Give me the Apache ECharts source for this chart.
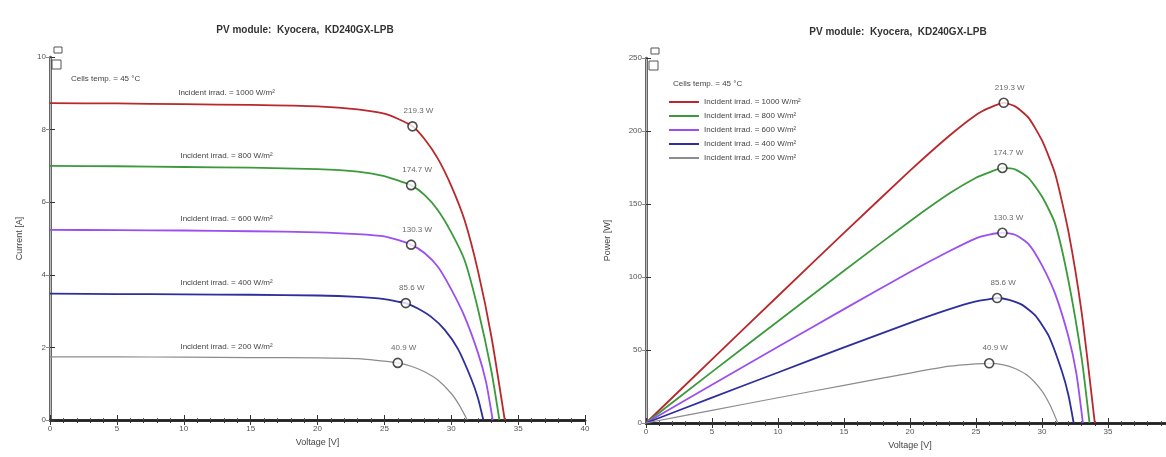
<!DOCTYPE html>
<html>
<head>
<meta charset="utf-8">
<script src="https://cdn.jsdelivr.net/npm/echarts@6/dist/echarts.min.js"></script>
<style>
  html, body { margin: 0; padding: 0; background: #fff; }
  #chart { width: 1166px; height: 457px; }
</style>
</head>
<body>
<div id="chart"></div>
<script>
// irradiance levels [W/m2]
const irrad = [1000, 800, 600, 400, 200]

// I-V / P-V curves (voltage [V], current [A], power [W])
const v1000 = [0, 5, 10, 15, 20, 23, 25, 26, 27.1, 28, 29, 30, 31, 32, 33, 34]
const i1000 = [8.73, 8.72, 8.70, 8.68, 8.64, 8.56, 8.44, 8.30, 8.09, 7.74, 7.20, 6.45, 5.50, 4.10, 2.30, 0]
const p1000 = [0, 43.6, 87.0, 130.2, 172.8, 196.9, 211.0, 215.8, 219.3, 216.7, 208.8, 193.5, 170.5, 131.2, 75.9, 0]

const v800 = [0, 5, 10, 15, 20, 23, 25, 26, 27, 28, 29, 30, 31, 32, 33, 33.6]
const i800 = [7.00, 6.99, 6.97, 6.95, 6.91, 6.84, 6.72, 6.60, 6.47, 6.20, 5.78, 5.17, 4.40, 3.05, 1.35, 0]
const p800 = [0, 35.0, 69.7, 104.3, 138.2, 157.3, 168.0, 171.6, 174.7, 173.6, 167.6, 155.1, 136.4, 97.6, 44.6, 0]

const v600 = [0, 5, 10, 15, 20, 23, 25, 26, 27, 28, 29, 30, 31, 32, 32.6, 33.1]
const i600 = [5.24, 5.23, 5.22, 5.20, 5.17, 5.12, 5.06, 4.96, 4.83, 4.60, 4.22, 3.60, 2.85, 1.85, 1.05, 0]
const p600 = [0, 26.2, 52.2, 78.0, 103.4, 117.8, 126.5, 129.0, 130.3, 128.8, 122.4, 108.0, 88.4, 59.2, 34.2, 0]

const v400 = [0, 5, 10, 15, 20, 23, 25, 26, 26.6, 27.5, 28.5, 29.5, 30.5, 31.5, 32, 32.4]
const i400 = [3.48, 3.47, 3.46, 3.45, 3.43, 3.39, 3.33, 3.26, 3.22, 3.07, 2.84, 2.49, 1.96, 1.13, 0.60, 0]
const p400 = [0, 17.4, 34.6, 51.8, 68.6, 78.0, 83.3, 84.8, 85.6, 84.4, 80.9, 73.5, 59.8, 35.6, 19.2, 0]

const v200 = [0, 5, 10, 15, 20, 23, 25, 26, 27, 28, 29, 30, 30.6, 31.2]
const i200 = [1.74, 1.74, 1.73, 1.72, 1.71, 1.69, 1.62, 1.573, 1.48, 1.33, 1.10, 0.73, 0.41, 0]
const p200 = [0, 8.7, 17.3, 25.8, 34.2, 38.9, 40.5, 40.9, 40.0, 37.2, 31.9, 21.9, 12.5, 0]

// maximum power points
const mppV = [27.1, 27.0, 27.0, 26.6, 26.0]
const mppI = [8.09, 6.47, 4.83, 3.22, 1.573]
const mppP = [219.3, 174.7, 130.3, 85.6, 40.9]

const volts = [v1000, v800, v600, v400, v200]
const amps = [i1000, i800, i600, i400, i200]
const watts = [p1000, p800, p600, p400, p200]
const colors = ['#b8282c', '#3c9a3c', '#9b4ff0', '#2e2e9c', '#8c8c8c']

const FONT = 'Liberation Sans, Arial, sans-serif'
const names = irrad.map(g => 'Incident irrad. = ' + g + ' W/m²')

const zip = (a, b) => a.map((x, k) => [x, b[k]])

const chart = echarts.init(document.getElementById('chart'))

// axes helpers
const mainX = (gi) => ({
  type: 'value', gridIndex: gi, min: 0, max: 40, interval: 5, position: 'bottom',
  name: 'Voltage [V]', nameLocation: 'middle', nameGap: 16,
  nameTextStyle: { fontSize: 9, color: '#444', fontFamily: FONT },
  axisLine: { lineStyle: { color: '#333', width: 2.5 } },
  axisTick: { inside: true, length: 5, lineStyle: { color: '#333' } },
  minorTick: { show: true, splitNumber: 5, length: 2, lineStyle: { color: '#555' } },
  axisLabel: { fontSize: 8, color: '#555', margin: 5, fontFamily: FONT },
  splitLine: { show: false },
})
const topX = (gi) => ({
  type: 'value', gridIndex: gi, min: 0, max: 40, interval: 5, position: 'top',
  axisLine: { lineStyle: { color: '#222', width: 2.5 } },
  axisTick: { inside: true, length: 5, lineStyle: { color: '#333' } },
  minorTick: { show: true, splitNumber: 5, length: 3, lineStyle: { color: '#333' } },
  axisLabel: { show: false },
  splitLine: { show: false },
})
const mainY = (gi, max, interval, name, gap) => ({
  type: 'value', gridIndex: gi, min: 0, max: max, interval: interval, position: 'left',
  name: name, nameLocation: 'middle', nameGap: gap,
  nameTextStyle: { fontSize: 9, color: '#444', fontFamily: FONT },
  axisLine: { show: true, lineStyle: { color: '#333', width: 2.5 } },
  axisTick: { show: true, inside: true, length: 5, lineStyle: { color: '#333' } },
  axisLabel: { fontSize: 8, color: '#555', margin: 4, fontFamily: FONT },
  splitLine: { show: false },
})
const rightY = (gi, max, interval) => ({
  type: 'value', gridIndex: gi, min: 0, max: max, interval: interval, position: 'right',
  axisLine: { show: true, lineStyle: { color: '#bbb', width: 1 } },
  axisTick: { show: true, inside: true, length: 4, lineStyle: { color: '#888' } },
  axisLabel: { show: false },
  splitLine: { show: false },
})

const series = []

// left chart: current vs voltage
irrad.forEach((g, k) => {
  series.push({
    type: 'line', name: names[k], xAxisIndex: 0, yAxisIndex: 0,
    data: zip(volts[k], amps[k]), showSymbol: false, smooth: 0.2,
    lineStyle: { color: colors[k], width: k === 4 ? 1.2 : 1.8 },
    itemStyle: { color: colors[k] },
    markPoint: {
      symbol: 'circle', symbolSize: 1, itemStyle: { color: 'transparent' },
      label: {
        show: true, formatter: names[k], position: 'top', distance: 6,
        fontSize: 8, color: '#444', fontFamily: FONT,
      },
      data: [{ coord: [13.2, amps[k][0]] }],
    },
  })
})
series.push({
  type: 'scatter', xAxisIndex: 0, yAxisIndex: 0, z: 5,
  data: zip(mppV, mppI), symbol: 'circle', symbolSize: 9,
  itemStyle: { color: '#fff', borderColor: '#222', borderWidth: 1.6 },
  label: {
    show: true, position: 'top', offset: [6, -1], fontSize: 8, color: '#444', fontFamily: FONT,
    formatter: (p) => mppP[p.dataIndex].toFixed(1) + ' W',
  },
})

// right chart: power vs voltage
irrad.forEach((g, k) => {
  series.push({
    type: 'line', name: names[k], xAxisIndex: 2, yAxisIndex: 2,
    data: zip(volts[k], watts[k]), showSymbol: false, smooth: 0.2,
    lineStyle: { color: colors[k], width: k === 4 ? 1.2 : 1.8 },
    itemStyle: { color: colors[k] },
  })
})
series.push({
  type: 'scatter', xAxisIndex: 2, yAxisIndex: 2, z: 5,
  data: zip(mppV, mppP), symbol: 'circle', symbolSize: 9,
  itemStyle: { color: '#fff', borderColor: '#222', borderWidth: 1.6 },
  label: {
    show: true, position: 'top', offset: [6, -1], fontSize: 8, color: '#444', fontFamily: FONT,
    formatter: (p) => mppP[p.dataIndex].toFixed(1) + ' W',
  },
})

const title = 'PV module:  Kyocera,  KD240GX-LPB'

chart.setOption({
  animation: false,
  backgroundColor: '#fff',
  textStyle: { fontFamily: FONT },
  title: [
    { text: title, left: 300, top: 20, textAlign: 'center',
      textStyle: { fontSize: 10, fontWeight: 'bold', color: '#333', fontFamily: FONT } },
    { text: title, left: 893, top: 22, textAlign: 'center',
      textStyle: { fontSize: 10, fontWeight: 'bold', color: '#333', fontFamily: FONT } },
    { text: 'Cells temp. = 45 °C', left: 66, top: 70,
      textStyle: { fontSize: 8, fontWeight: 'normal', color: '#444', fontFamily: FONT } },
    { text: 'Cells temp. = 45 °C', left: 668, top: 75,
      textStyle: { fontSize: 8, fontWeight: 'normal', color: '#444', fontFamily: FONT } },
  ],
  legend: {
    data: names, orient: 'vertical', left: 664, top: 93,
    icon: 'rect', itemWidth: 30, itemHeight: 2, itemGap: 6,
    textStyle: { fontSize: 8, color: '#444', fontFamily: FONT },
  },
  grid: [
    { left: 50, right: 581, top: 57, bottom: 37, containLabel: false, outerBoundsMode: 'none' },
    { left: 646, right: -8, top: 58, bottom: 34, containLabel: false, outerBoundsMode: 'none' },
  ],
  xAxis: [mainX(0), topX(0), mainX(1), topX(1)],
  yAxis: [
    mainY(0, 10, 2, 'Current [A]', 26), rightY(0, 10, 2),
    mainY(1, 250, 50, 'Power [W]', 34), rightY(1, 250, 50),
  ],
  graphic: [
    { type: 'rect', shape: { x: 54, y: 47, width: 8, height: 6 }, style: { fill: '#fff', stroke: '#555', lineWidth: 1 } },
    { type: 'rect', shape: { x: 52, y: 60, width: 9, height: 9 }, style: { fill: '#fff', stroke: '#555', lineWidth: 1 } },
    { type: 'rect', shape: { x: 651, y: 48, width: 8, height: 6 }, style: { fill: '#fff', stroke: '#555', lineWidth: 1 } },
    { type: 'rect', shape: { x: 649, y: 61, width: 9, height: 9 }, style: { fill: '#fff', stroke: '#555', lineWidth: 1 } },
  ],
  series: series,
})
</script>
</body>
</html>
